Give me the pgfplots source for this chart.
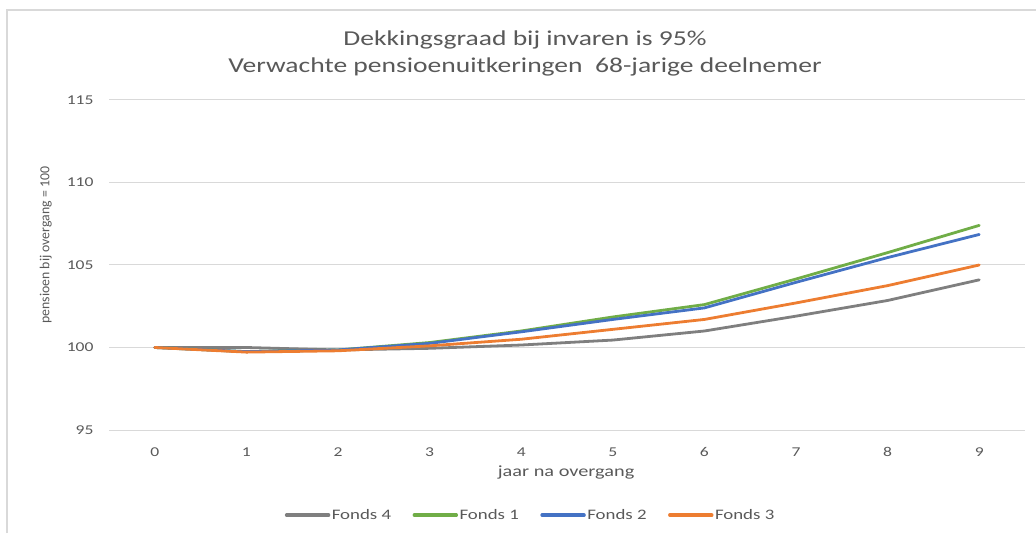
\documentclass[border=0pt]{standalone}
\usepackage{pgfplots}
\pgfplotsset{compat=1.18}
\usepackage{fontspec}
\setmainfont{Carlito}
\newfontfamily\wide[FakeStretch=1.3]{Carlito}
\definecolor{cgray}{HTML}{7F7F7F}
\definecolor{cgreen}{HTML}{70AD47}
\definecolor{cblue}{HTML}{4472C4}
\definecolor{corange}{HTML}{ED7D31}
\definecolor{txt}{HTML}{595959}
\definecolor{gridc}{HTML}{D9D9D9}
\begin{document}
\begin{tikzpicture}[x=1pt,y=1pt]
\path[use as bounding box] (0,0) rectangle (1036,533);
\draw[gridc,line width=1.2pt] (7,0) -- (7,523) -- (1036,523);
\node[txt,font=\wide\fontsize{21.2}{25}\selectfont] at (525,493) {Dekkingsgraad bij invaren is 95\%};
\node[txt,font=\wide\fontsize{21.2}{25}\selectfont] at (525,466) {Verwachte pensioenuitkeringen\ \ 68-jarige deelnemer};
\begin{axis}[
  scale only axis, width=916pt, height=330pt,
  at={(109pt,103pt)}, anchor=south west,
  xmin=-0.5, xmax=9.5, ymin=95, ymax=115,
  xtick={0,...,9}, ytick={95,100,105,110,115},
  ymajorgrids, grid style={gridc,line width=1pt},
  axis line style={draw=none},
  major tick length=0pt,
  tick label style={txt,font=\wide\fontsize{13.5}{15}\selectfont},
  /pgf/number format/assume math mode=true,
  yticklabel style={xshift=-12pt},
  xticklabel style={anchor=center,yshift=-22pt},
  xlabel={jaar na overgang},
  xlabel style={txt,font=\wide\fontsize{15.6}{18}\selectfont,at={(axis description cs:0.499,-0.13)},anchor=center},
  ylabel={pensioen bij overgang = 100},
  ylabel style={txt,font=\fontsize{13.8}{16}\selectfont,at={(axis description cs:-0.069,0.56)},anchor=center},
  legend style={at={(axis description cs:0.46,-0.258)},anchor=center,draw=none,legend columns=-1,
    font=\wide\fontsize{14.5}{17}\selectfont,text=txt,
    /tikz/every even column/.append style={column sep=20pt},
    nodes={inner xsep=1.5pt}},
  legend image code/.code={\draw[#1,line width=3.4pt] (0,0) -- (42pt,0);},
  every axis plot/.append style={line width=2.8pt,line join=round,line cap=round},
]
\addplot[cgray] coordinates {(0,100) (1,100.0) (2,99.85) (3,99.95) (4,100.15) (5,100.45) (6,101.0) (7,101.9) (8,102.85) (9,104.1)};
\addplot[cgreen] coordinates {(0,100) (1,99.75) (2,99.85) (3,100.3) (4,101.0) (5,101.85) (6,102.6) (7,104.15) (8,105.75) (9,107.4)};
\addplot[cblue] coordinates {(0,100) (1,99.75) (2,99.85) (3,100.25) (4,100.95) (5,101.7) (6,102.4) (7,103.95) (8,105.45) (9,106.85)};
\addplot[corange] coordinates {(0,100) (1,99.72) (2,99.8) (3,100.1) (4,100.5) (5,101.1) (6,101.7) (7,102.7) (8,103.75) (9,105.0)};
\legend{Fonds 4,Fonds 1,Fonds 2,Fonds 3}
\end{axis}
\end{tikzpicture}
\end{document}
